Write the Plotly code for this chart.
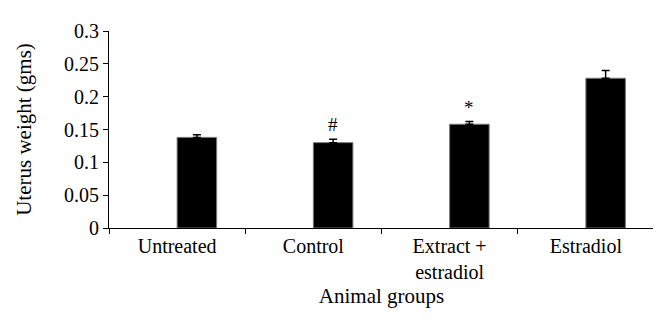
import plotly.graph_objects as go

categories = ["Untreated", "Control", "Extract +<br>estradiol", "Estradiol"]
values = [0.138, 0.130, 0.158, 0.228]
errors = [0.004, 0.005, 0.004, 0.012]
marks = ["", "#", "*", ""]

FONT = "Liberation Serif"
BAR_W = 0.29

fig = go.Figure()
fig.add_trace(go.Bar(
    x=categories, y=values, width=BAR_W, offset=0,
    marker=dict(color="black", line=dict(color="#777", width=1)),
    error_y=dict(type="data", array=errors, arrayminus=[0]*4, symmetric=False,
                 color="black", thickness=1.5, width=4),
))
for i, (v, e, m) in enumerate(zip(values, errors, marks)):
    if m:
        fig.add_annotation(x=i + BAR_W / 2, y=v + e, text=m, showarrow=False,
                           yanchor="bottom", yshift=2,
                           font=dict(family=FONT, size=19, color="black"))

fig.update_layout(
    width=661, height=323,
    margin=dict(l=101, r=15, t=23, b=103),
    plot_bgcolor="white", paper_bgcolor="white",
    showlegend=False,
    font=dict(family=FONT, size=20, color="black"),
    xaxis=dict(type="category", tickson="boundaries", ticks="outside", ticklen=5,
               tickcolor="black", showline=True, linecolor="black", linewidth=1,
               automargin=False,
               title=dict(text="Animal groups", standoff=6, font=dict(size=21)),
               tickfont=dict(size=20), showgrid=False),
    yaxis=dict(range=[0, 0.3], dtick=0.05, ticks="outside", ticklen=5,
               tickcolor="black", showline=True, linecolor="black", linewidth=1,
               showgrid=False, zeroline=False, automargin=False,
               title=dict(text="Uterus weight (gms)", standoff=26, font=dict(size=21)),
               tickfont=dict(size=20)),
)
fig.write_html("out.html")
